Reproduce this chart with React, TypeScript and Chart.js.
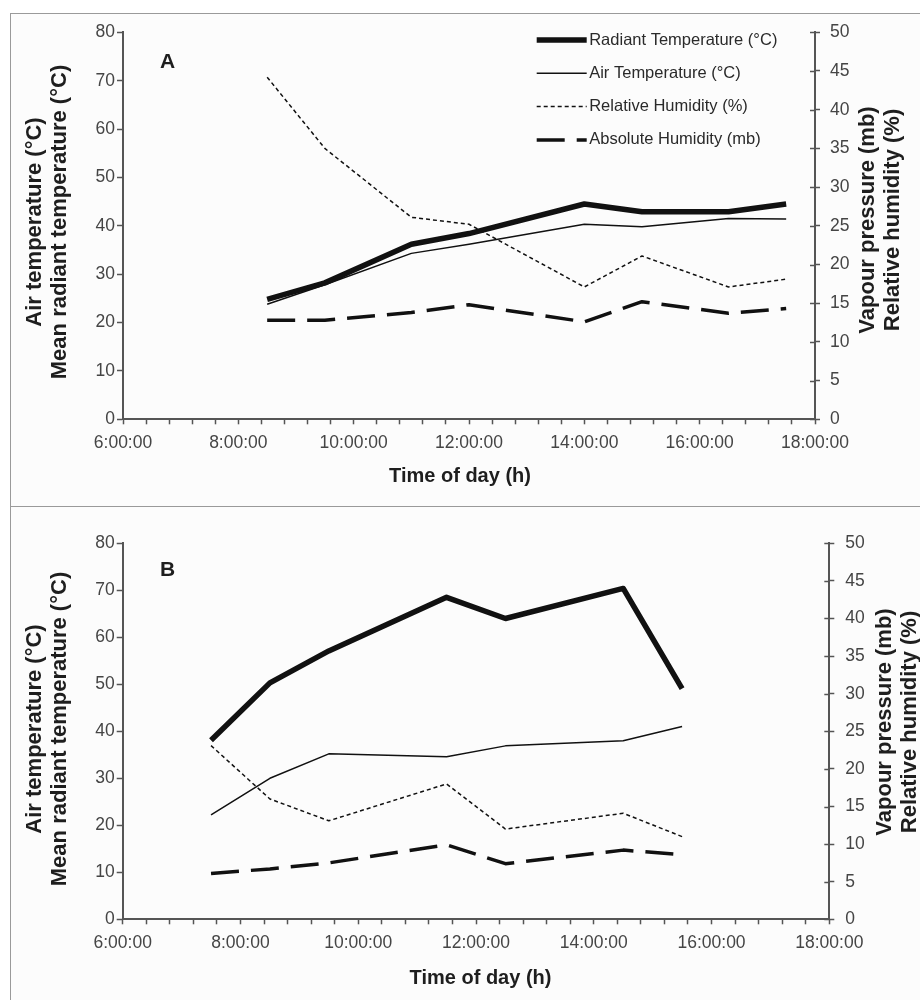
import React, { useEffect, useRef } from "react";
import { Chart, registerables } from "chart.js";

Chart.register(...registerables);

// ---------- data (time of day in hours) ----------
const timesA = [8.5, 9.5, 11, 12, 14, 15, 16.5, 17.5];
const radiantA = [24.8, 28.2, 36.2, 38.4, 44.5, 42.9, 42.9, 44.5];
const airA = [23.8, 27.8, 34.3, 36.2, 40.3, 39.8, 41.5, 41.4];
const rhA = [44.2, 35.0, 26.1, 25.2, 17.1, 21.1, 17.1, 18.1];
const ahA = [12.8, 12.8, 13.8, 14.8, 12.6, 15.2, 13.7, 14.3];

const timesB = [7.5, 8.5, 9.5, 11.5, 12.5, 14.5, 15.5];
const radiantB = [38.1, 50.3, 57.1, 68.5, 64.0, 70.4, 49.1];
const airB = [22.2, 30.0, 35.2, 34.6, 36.9, 38.0, 41.0];
const rhB = [23.1, 16.0, 13.1, 18.0, 12.0, 14.1, 11.0];
const ahB = [6.1, 6.7, 7.5, 9.9, 7.4, 9.2, 8.6];

const seriesLabels = [
  "Radiant Temperature (°C)",
  "Air Temperature (°C)",
  "Relative Humidity (%)",
  "Absolute Humidity (mb)",
];
const xAxisTitle = "Time of day (h)";
const leftAxisTitle = ["Air temperature (°C)", "Mean radiant temperature (°C)"];
const rightAxisTitle = ["Vapour pressure (mb)", "Relative humidity (%)"];
const xMinHour = 6;
const xMaxHour = 18;
const leftMax = 80;
const rightMax = 50;

// ---------- styles ----------
const FONT = "'Liberation Sans', Arial, Helvetica, sans-serif";
const AXIS = "#555555";
const TICK = "#454545";
const TITLE = "#1e1e1e";
const LINE = "#111111";

const seriesStyles = [
  { width: 5.5, dash: [] as number[], axis: "y" },
  { width: 1.5, dash: [] as number[], axis: "y" },
  { width: 1.5, dash: [4, 3], axis: "y1" },
  { width: 3.5, dash: [28, 12], axis: "y1" },
];

type PanelCfg = {
  letter: string;
  times: number[];
  series: number[][];
  left: number;
  top: number;
  w: number;
  h: number;
  pad: { left: number; right: number; top: number; bottom: number };
  leftStep: number;
  rightTickPad: number;
  xTitlePos: [number, number];
  leftTitleX: number[];
  leftTitleY: number;
  rightTitleX: number[];
  rightTitleY: number;
  letterPos: [number, number];
  legend: null | { x: number; y: number; dy: number; len: number };
};

const panels: PanelCfg[] = [
  {
    letter: "A",
    times: timesA,
    series: [radiantA, airA, rhA, ahA],
    left: 10,
    top: 13,
    w: 909,
    h: 492,
    pad: { left: 52, right: 55, top: 18.3, bottom: 46.7 },
    leftStep: 10,
    rightTickPad: 10,
    xTitlePos: [449, 462.7],
    leftTitleX: [24, 49],
    leftTitleY: 208,
    rightTitleX: [857.3, 882.3],
    rightTitleY: 206,
    letterPos: [156.5, 48.5],
    legend: { x: 525.7, y: 26, dy: 33.3, len: 50 },
  },
  {
    letter: "B",
    times: timesB,
    series: [radiantB, airB, rhB, ahB],
    left: 10,
    top: 506,
    w: 909,
    h: 493,
    pad: { left: 51.7, right: 40.7, top: 36.3, bottom: 40.7 },
    leftStep: 5,
    rightTickPad: 11,
    xTitlePos: [469.5, 471.3],
    leftTitleX: [24, 49],
    leftTitleY: 222,
    rightTitleX: [874, 899],
    rightTitleY: 215,
    letterPos: [156.5, 63.5],
    legend: null,
  },
];

function makeDecor(cfg: PanelCfg) {
  return {
    id: "panelDecor" + cfg.letter,
    afterDraw(chart: any) {
      const ctx = chart.ctx as CanvasRenderingContext2D;
      const ca = chart.chartArea;
      ctx.save();
      // inward part of right-axis ticks
      const y1 = chart.scales.y1;
      ctx.strokeStyle = AXIS;
      ctx.lineWidth = 1.5;
      y1.ticks.forEach((t: any) => {
        const py = Math.round(y1.getPixelForValue(t.value)) + 0.5;
        ctx.beginPath();
        ctx.moveTo(ca.right - 5, py);
        ctx.lineTo(ca.right, py);
        ctx.stroke();
      });

      ctx.fillStyle = TITLE;
      ctx.textAlign = "center";
      ctx.textBaseline = "middle";
      // x title
      ctx.font = `bold 20px ${FONT}`;
      ctx.fillText(xAxisTitle, cfg.xTitlePos[0], cfg.xTitlePos[1]);
      // y titles
      ctx.font = `bold 22px ${FONT}`;
      leftAxisTitle.forEach((line, i) => {
        ctx.save();
        ctx.translate(cfg.leftTitleX[i], cfg.leftTitleY);
        ctx.rotate(-Math.PI / 2);
        ctx.fillText(line, 0, 0);
        ctx.restore();
      });
      rightAxisTitle.forEach((line, i) => {
        ctx.save();
        ctx.translate(cfg.rightTitleX[i], cfg.rightTitleY);
        ctx.rotate(-Math.PI / 2);
        ctx.fillText(line, 0, 0);
        ctx.restore();
      });
      // panel letter
      ctx.font = `bold 21px ${FONT}`;
      ctx.fillText(cfg.letter, cfg.letterPos[0], cfg.letterPos[1]);

      // legend
      if (cfg.legend) {
        const lg = cfg.legend;
        chart.data.datasets.forEach((ds: any, i: number) => {
          const y = lg.y + i * lg.dy;
          ctx.save();
          ctx.strokeStyle = ds.borderColor;
          ctx.lineWidth = ds.borderWidth;
          ctx.setLineDash(ds.borderDash || []);
          ctx.beginPath();
          ctx.moveTo(lg.x, y);
          ctx.lineTo(lg.x + lg.len, y);
          ctx.stroke();
          ctx.restore();
          ctx.fillStyle = "#2a2a2a";
          ctx.textAlign = "left";
          ctx.font = `16.5px ${FONT}`;
          ctx.fillText(ds.label, lg.x + lg.len + 2.5, y);
        });
      }
      ctx.restore();
    },
  };
}

function buildConfig(cfg: PanelCfg): any {
  const datasets = cfg.series.map((vals, i) => ({
    label: seriesLabels[i],
    data: cfg.times.map((t, j) => ({ x: t * 60, y: vals[j] })),
    borderColor: LINE,
    backgroundColor: LINE,
    borderWidth: seriesStyles[i].width,
    borderDash: seriesStyles[i].dash,
    borderCapStyle: "butt",
    borderJoinStyle: "round",
    pointRadius: 0,
    tension: 0,
    fill: false,
    yAxisID: seriesStyles[i].axis,
  }));
  const tickFont = { family: FONT, size: 17.5 };
  const zeroPad = (s: any) => {
    s.paddingLeft = 0;
    s.paddingRight = 0;
    s.paddingTop = 0;
    s.paddingBottom = 0;
  };
  return {
    type: "line",
    data: { datasets },
    options: {
      animation: false,
      responsive: true,
      maintainAspectRatio: false,
      layout: { padding: cfg.pad },
      plugins: { legend: { display: false }, tooltip: { enabled: false } },
      scales: {
        x: {
          type: "linear",
          position: "bottom",
          min: xMinHour * 60,
          max: xMaxHour * 60,
          ticks: {
            stepSize: 24,
            autoSkip: false,
            maxRotation: 0,
            minRotation: 0,
            padding: 8,
            color: TICK,
            font: tickFont,
            callback: (v: number) => (v % 120 === 0 ? `${v / 60}:00:00` : ""),
          },
          grid: {
            drawOnChartArea: false,
            drawTicks: true,
            tickLength: 5,
            tickColor: AXIS,
            tickWidth: 1.5,
          },
          border: { display: true, color: AXIS, width: 2 },
          afterFit: (s: any) => {
            s.height = 40;
            zeroPad(s);
          },
        },
        y: {
          type: "linear",
          position: "left",
          min: 0,
          max: leftMax,
          ticks: {
            stepSize: cfg.leftStep,
            padding: 2,
            color: TICK,
            font: tickFont,
            callback: (v: number) => (v % 10 === 0 ? String(v) : ""),
          },
          grid: {
            drawOnChartArea: false,
            drawTicks: true,
            tickLength: 6,
            tickColor: AXIS,
            tickWidth: 1.5,
          },
          border: { display: true, color: AXIS, width: 2 },
          afterFit: (s: any) => {
            s.width = 60;
            zeroPad(s);
          },
        },
        y1: {
          type: "linear",
          position: "right",
          min: 0,
          max: rightMax,
          ticks: {
            stepSize: 5,
            padding: cfg.rightTickPad,
            color: TICK,
            font: tickFont,
          },
          grid: {
            drawOnChartArea: false,
            drawTicks: true,
            tickLength: 5,
            tickColor: AXIS,
            tickWidth: 1.5,
          },
          border: { display: true, color: AXIS, width: 2 },
          afterFit: (s: any) => {
            s.width = 50;
            zeroPad(s);
          },
        },
      },
    },
    plugins: [makeDecor(cfg)],
  };
}

function Panel({ cfg }: { cfg: PanelCfg }) {
  const ref = useRef<HTMLCanvasElement>(null);
  useEffect(() => {
    if (!ref.current) return;
    const chart = new Chart(ref.current, buildConfig(cfg));
    return () => chart.destroy();
  }, [cfg]);
  return (
    <div
      style={{
        position: "absolute",
        left: cfg.left,
        top: cfg.top,
        width: cfg.w,
        height: cfg.h,
        borderLeft: "1px solid #9a9a9a",
        borderTop: "1px solid #9a9a9a",
        background: "#fcfcfc",
      }}
    >
      <div style={{ position: "relative", width: cfg.w, height: cfg.h }}>
        <canvas ref={ref} />
      </div>
    </div>
  );
}

export default function App() {
  return (
    <div
      style={{
        position: "absolute",
        left: 0,
        top: 0,
        width: 920,
        height: 1000,
        background: "#ffffff",
        overflow: "hidden",
      }}
    >
      {panels.map((p) => (
        <Panel key={p.letter} cfg={p} />
      ))}
    </div>
  );
}
